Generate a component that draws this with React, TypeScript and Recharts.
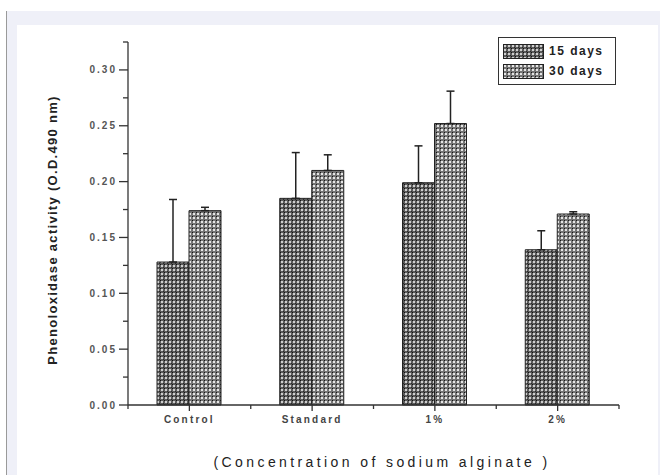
import { BarChart, Bar, XAxis, YAxis, ErrorBar, Legend } from 'recharts';

// Phenoloxidase activity, two sampling times, per treatment
const categories = ['Control', 'Standard', '1%', '2%'];
const days15 = [0.128, 0.185, 0.199, 0.139];
const days15Err = [0.056, 0.041, 0.033, 0.017];
const days30 = [0.174, 0.210, 0.252, 0.171];
const days30Err = [0.003, 0.014, 0.029, 0.002];
const seriesNames = ['15 days', '30 days'];
const yTicks = [0, 0.025, 0.05, 0.075, 0.1, 0.125, 0.15, 0.175, 0.2, 0.225, 0.25, 0.275, 0.3, 0.325];

const data = categories.map((name, i) => ({
  name,
  d15: days15[i],
  e15: [0, days15Err[i]],
  d30: days30[i],
  e30: [0, days30Err[i]],
}));

const W = 660;
const H = 475;
const margin = { top: 42, right: 41, bottom: 0, left: 0 };
const Y_AXIS_W = 128;
const X_AXIS_H = 70;
const BAND = (W - margin.left - margin.right - Y_AXIS_W) / categories.length;
const AXIS = '#333';
const FONT = '"Liberation Sans", Arial, sans-serif';

const YTick = (props: any) => {
  const { x, y, payload } = props;
  const axisX = x + 11; // tickSize 9 + tickMargin 2
  const major = Math.round(payload.value * 1000) % 50 === 0;
  return (
    <g>
      <line x1={axisX - (major ? 9 : 5)} y1={y} x2={axisX} y2={y} stroke={AXIS} strokeWidth={1.3} />
      {major && (
        <text x={x} y={y} dy="0.35em" textAnchor="end" fontFamily={FONT} fontSize={10}
          fontWeight="bold" fill="#555" letterSpacing={2}>
          {payload.value.toFixed(2)}
        </text>
      )}
    </g>
  );
};

const XTick = (props: any) => {
  const { x, y, payload, index } = props;
  const axisY = y - 10; // tickSize 6 + tickMargin 4
  const last = index === categories.length - 1;
  return (
    <g>
      <line x1={x - BAND / 2} y1={axisY} x2={x - BAND / 2} y2={axisY + 4} stroke={AXIS} strokeWidth={1.3} />
      {last && <line x1={x + BAND / 2} y1={axisY} x2={x + BAND / 2} y2={axisY + 4} stroke={AXIS} strokeWidth={1.3} />}
      <text x={x} y={y} dy="0.75em" textAnchor="middle" fontFamily={FONT} fontSize={10}
        fontWeight="bold" fill="#444" letterSpacing={2.2}>
        {payload.value}
      </text>
    </g>
  );
};

const LegendBox = () => (
  <div style={{ border: `1.5px solid ${AXIS}`, background: '#fff', padding: '3px 4px', fontFamily: FONT }}>
    {seriesNames.map((s, i) => (
      <div key={s} style={{ display: 'flex', alignItems: 'center', height: 20 }}>
        <svg width={41} height={15} style={{ marginRight: 5 }}>
          <rect x={0.5} y={0.5} width={40} height={14} fill={`url(#${i === 0 ? 'pat15' : 'pat30'})`} stroke="#222" />
        </svg>
        <span style={{ fontSize: 12, fontWeight: 'bold', color: '#222', letterSpacing: 1.5 }}>{s}</span>
      </div>
    ))}
  </div>
);

export default function App() {
  return (
    <div style={{ position: 'absolute', left: 0, top: 0, width: W, height: H, background: '#fff' }}>
      <div style={{ position: 'absolute', left: 6, top: 11, width: 1, height: H - 11, background: '#9a9a9a' }} />
      <div style={{ position: 'absolute', left: 7, top: 11, width: W - 7, height: H - 11, background: '#eff0f8' }} />
      <div style={{ position: 'absolute', left: 17, top: 25, width: 641, height: H - 25, background: '#fff' }} />
      <div style={{ position: 'absolute', left: 0, top: 0 }}>
        <BarChart width={W} height={H} data={data} margin={margin} barGap={0} barSize={32}>
          <defs>
            <pattern id="pat15" width={4} height={4} patternUnits="userSpaceOnUse">
              <rect width={4} height={4} fill="#5c5c5c" />
              <rect x={1} y={1} width={2} height={2} fill="#cfcfcf" />
              <rect x={0} y={0} width={1} height={1} fill="#111" />
              <rect x={3} y={3} width={1} height={1} fill="#2a2a2a" />
            </pattern>
            <pattern id="pat30" width={4} height={4} patternUnits="userSpaceOnUse">
              <rect width={4} height={4} fill="#747474" />
              <rect x={1} y={1} width={2} height={2} fill="#e6e6e6" />
              <rect x={0} y={0} width={1} height={1} fill="#141414" />
            </pattern>
          </defs>
          <XAxis dataKey="name" height={X_AXIS_H} tickSize={6} tickMargin={4}
            axisLine={{ stroke: AXIS, strokeWidth: 1.3 }} tickLine={{ stroke: AXIS, strokeWidth: 1.3 }}
            tick={<XTick />} interval={0} />
          <YAxis width={Y_AXIS_W} domain={[0, 0.325]} ticks={yTicks} interval={0} tickSize={9} tickMargin={2}
            axisLine={{ stroke: AXIS, strokeWidth: 1.3 }} tickLine={false} tick={<YTick />} />
          <Legend layout="vertical" align="center" verticalAlign="middle" content={<LegendBox />}
            wrapperStyle={{ position: 'absolute', left: 498, top: 37, width: 118 }} />
          <Bar dataKey="d15" name={seriesNames[0]} fill="url(#pat15)" stroke="#222" strokeWidth={1} isAnimationActive={false}>
            <ErrorBar dataKey="e15" width={4} stroke="#222" strokeWidth={1.5} direction="y" />
          </Bar>
          <Bar dataKey="d30" name={seriesNames[1]} fill="url(#pat30)" stroke="#222" strokeWidth={1} isAnimationActive={false}>
            <ErrorBar dataKey="e30" width={4} stroke="#222" strokeWidth={1.5} direction="y" />
          </Bar>
          <text x={52} y={230} transform="rotate(-90 52 230)" textAnchor="middle" dominantBaseline="central"
            fontFamily={FONT} fontSize={13} fontWeight="bold" fill="#222" letterSpacing={1.3}>
            Phenoloxidase activity (O.D.490 nm)
          </text>
          <text x={382} y={467} textAnchor="middle" fontFamily={FONT} fontSize={14} fill="#222" letterSpacing={3.4}>
            (Concentration of sodium alginate )
          </text>
        </BarChart>
      </div>
    </div>
  );
}
